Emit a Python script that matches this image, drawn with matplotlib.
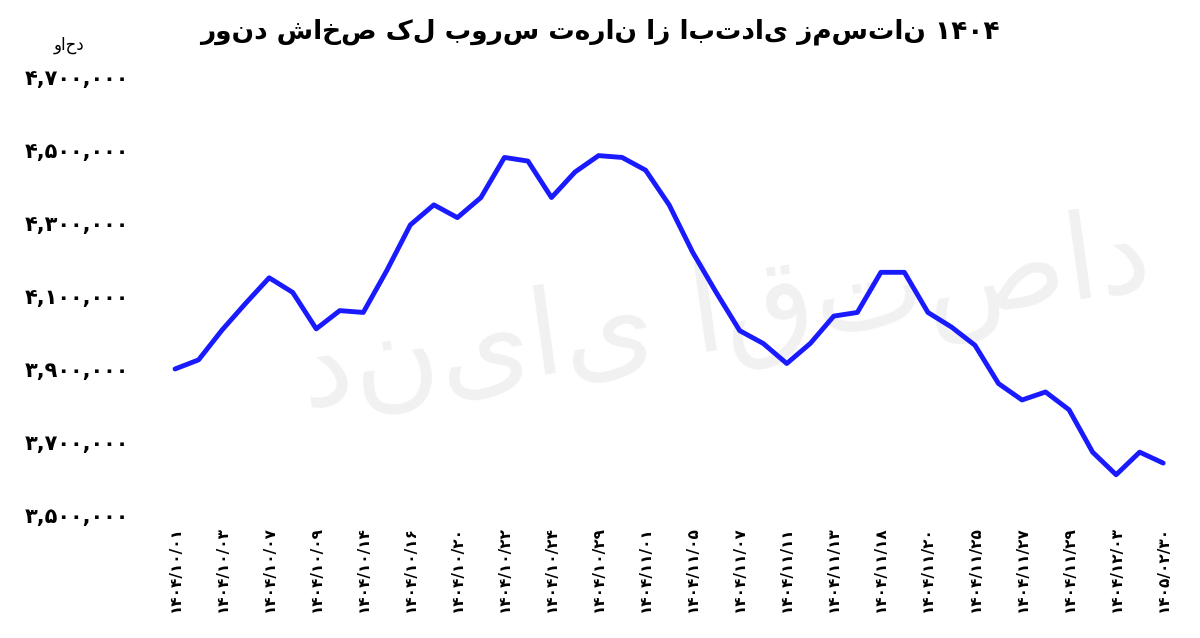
import matplotlib
matplotlib.use("Agg")
import matplotlib.pyplot as plt

values = [3.900, 3.925, 4.007, 4.080, 4.150, 4.110, 4.010, 4.060, 4.055, 4.170,
          4.295, 4.350, 4.315, 4.370, 4.480, 4.470, 4.370, 4.440, 4.485, 4.480,
          4.445, 4.350, 4.220, 4.110, 4.005, 3.970, 3.915, 3.970, 4.045, 4.055,
          4.165, 4.165, 4.055, 4.015, 3.965, 3.860, 3.815, 3.837, 3.788, 3.672,
          3.610, 3.672, 3.642]
values = [v * 1e6 for v in values]
tick_labels = ["۱۴۰۴/۱۰/۰۱", "۱۴۰۴/۱۰/۰۳", "۱۴۰۴/۱۰/۰۷", "۱۴۰۴/۱۰/۰۹", "۱۴۰۴/۱۰/۱۴",
               "۱۴۰۴/۱۰/۱۶", "۱۴۰۴/۱۰/۲۰", "۱۴۰۴/۱۰/۲۲", "۱۴۰۴/۱۰/۲۴", "۱۴۰۴/۱۰/۲۹",
               "۱۴۰۴/۱۱/۰۱", "۱۴۰۴/۱۱/۰۵", "۱۴۰۴/۱۱/۰۷", "۱۴۰۴/۱۱/۱۱", "۱۴۰۴/۱۱/۱۳",
               "۱۴۰۴/۱۱/۱۸", "۱۴۰۴/۱۱/۲۰", "۱۴۰۴/۱۱/۲۵", "۱۴۰۴/۱۱/۲۷", "۱۴۰۴/۱۱/۲۹",
               "۱۴۰۴/۱۲/۰۳", "۱۴۰۵/۰۲/۳۰"]
y_ticks = [3.5e6, 3.7e6, 3.9e6, 4.1e6, 4.3e6, 4.5e6, 4.7e6]
y_tick_labels = ["۳,۵۰۰,۰۰۰", "۳,۷۰۰,۰۰۰", "۳,۹۰۰,۰۰۰", "۴,۱۰۰,۰۰۰",
                 "۴,۳۰۰,۰۰۰", "۴,۵۰۰,۰۰۰", "۴,۷۰۰,۰۰۰"]
title = "روند شاخص کل بورس تهران از ابتدای زمستان ۱۴۰۴"
unit = "واحد"
watermark = "دنیای اقتصاد"

plt.rcParams['font.family'] = ['DejaVu Sans']
fig = plt.figure(figsize=(12, 6.38), dpi=100)
ax = fig.add_axes([0.14, 0.193, 0.845, 0.686])
ax.text(0.55, 0.45, watermark, transform=ax.transAxes, ha="center", va="center",
        fontsize=85, color="#f1f1f1", rotation=8, zorder=0)
x = list(range(len(values)))
ax.plot(x, values, color="#1a1aff", lw=3.5, solid_capstyle="round",
        solid_joinstyle="round", zorder=2)
ax.set_xlim(-0.3, 42.8)
ax.set_ylim(3.5e6, 4.7e6)
ax.set_yticks(y_ticks)
ax.set_yticklabels(y_tick_labels, fontsize=15, fontweight="bold")
ax.set_xticks(x[::2])
ax.set_xticklabels(tick_labels, rotation=90, fontsize=11, fontweight="bold")
for s in ax.spines.values():
    s.set_visible(False)
ax.tick_params(axis="y", length=0, pad=28)
ax.tick_params(axis="x", length=0, pad=8)

fig.text(0.5, 0.95, title, ha="center", va="center", fontsize=19, fontweight="bold")
fig.text(0.07, 0.93, unit, ha="right", va="center", fontsize=12)
fig.savefig("out.png", dpi=100)
